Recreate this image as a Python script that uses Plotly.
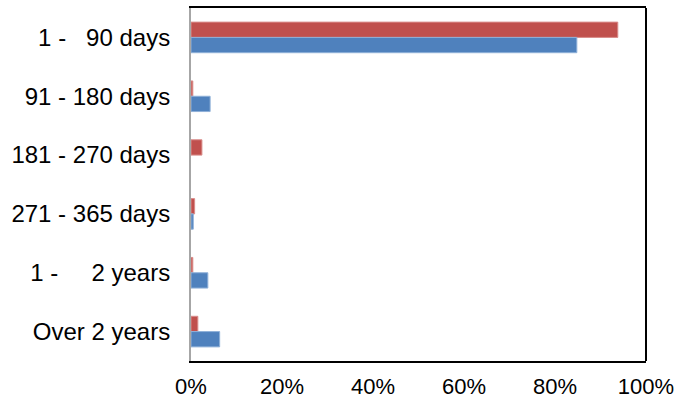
import plotly.graph_objects as go

# Age buckets, top to bottom
categories = [
    "1 -\u00a0\u00a0\u00a090 days",
    "91 - 180 days",
    "181 - 270 days",
    "271 - 365 days",
    "1 -\u00a0\u00a0\u00a0\u00a0\u00a02 years",
    "Over 2 years",
]
# Share of total (fraction) per bucket
red_values = [0.938, 0.004, 0.024, 0.008, 0.004, 0.015]
blue_values = [0.848, 0.042, 0.0, 0.005, 0.037, 0.063]
x_ticks = [0, 0.2, 0.4, 0.6, 0.8, 1.0]
x_tick_labels = ["0%", "20%", "40%", "60%", "80%", "100%"]

RED = "#C0504D"
BLUE = "#4F81BD"


def edge_widths(values):
    # no outline on empty bars so they stay invisible
    return [0 if v == 0 else 1 for v in values]


fig = go.Figure()
fig.add_trace(go.Bar(
    y=categories, x=red_values, orientation="h",
    marker=dict(color=RED, line=dict(color="#D98C8A", width=edge_widths(red_values))),
    showlegend=False,
))
fig.add_trace(go.Bar(
    y=categories, x=blue_values, orientation="h",
    marker=dict(color=BLUE, line=dict(color="#8FB0D8", width=edge_widths(blue_values))),
    showlegend=False,
))

font_family = "Liberation Sans, Arial, sans-serif"

fig.update_layout(
    width=686, height=400,
    margin=dict(l=191, r=40, t=8, b=39),
    paper_bgcolor="white", plot_bgcolor="white",
    barmode="group", bargap=0.48, bargroupgap=0,
    font=dict(family=font_family, color="#000000"),
    xaxis=dict(
        range=[0, 1.0], tickvals=x_ticks, ticktext=x_tick_labels,
        showgrid=False, zeroline=False, automargin=False,
        showline=True, linecolor="#000000", linewidth=2, mirror=True,
        ticks="", tickfont=dict(size=22, family=font_family),
        ticklabelstandoff=5,
    ),
    yaxis=dict(
        categoryorder="array", categoryarray=categories,
        autorange="reversed", automargin=False,
        showgrid=False, zeroline=False,
        showline=True, linecolor="#A6A6A6", linewidth=2,
        ticks="", tickfont=dict(size=24, family=font_family),
        ticklabelstandoff=14,
    ),
    shapes=[
        dict(type="line", xref="paper", yref="paper", x0=1, x1=1, y0=0, y1=1,
             line=dict(color="#000000", width=2)),
    ],
)

fig.write_html("out.html")
